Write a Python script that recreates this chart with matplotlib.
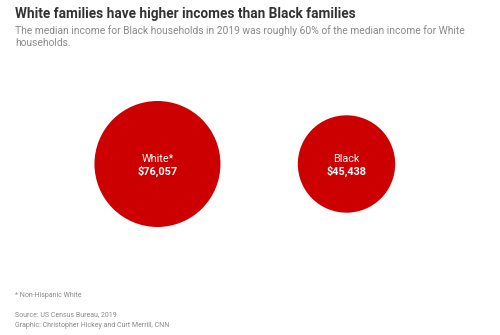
import numpy as np
import matplotlib.pyplot as plt

groups = ['White*', 'Black']
incomes = [76057, 45438]
labels = ['$76,057', '$45,438']

red = '#cc0000'
gray = '#8a8a8a'

fig = plt.figure(figsize=(5, 3.35), dpi=100)
plt.rcParams['font.family'] = ['Roboto', 'DejaVu Sans']
ax = fig.add_axes([0, 0, 1, 1])

x = np.arange(len(groups))
# bubble area proportional to income
s_max = 8230
sizes = [s_max * v / max(incomes) for v in incomes]
ax.scatter(x, np.zeros(len(x)), s=sizes, color=red, edgecolors='none')

for xi, g, lab in zip(x, groups, labels):
    ax.text(xi, 0.0, g, color='white', ha='center', va='bottom', fontsize=7.8)
    ax.text(xi, -0.01, lab, color='white', ha='center', va='top', fontsize=7.8, fontweight='bold')

ax.set_xlim(-0.833, 1.812)
# y=0 sits 164 px from the top
ax.set_ylim(-(335 - 164) / 189, 164 / 189)
ax.axis('off')

fig.text(15 / 500, 1 - 18 / 335, 'White families have higher incomes than Black families',
         fontsize=9.8, fontweight='bold', color='#333333', va='baseline')
fig.text(15 / 500, 1 - 34 / 335,
         'The median income for Black households in 2019 was roughly 60% of the median income for White',
         fontsize=7.35, color=gray, va='baseline')
fig.text(15 / 500, 1 - 46 / 335, 'households.', fontsize=7.35, color=gray, va='baseline')

fig.text(15 / 500, 1 - 297 / 335, '* Non-Hispanic White', fontsize=5, color=gray, va='baseline')
fig.text(15 / 500, 1 - 316 / 335, 'Source: US Census Bureau, 2019', fontsize=5, color=gray, va='baseline')
fig.text(15 / 500, 1 - 327 / 335, 'Graphic: Christopher Hickey and Curt Merrill, CNN', fontsize=5, color=gray, va='baseline')

fig.savefig('out.png', dpi=100)
